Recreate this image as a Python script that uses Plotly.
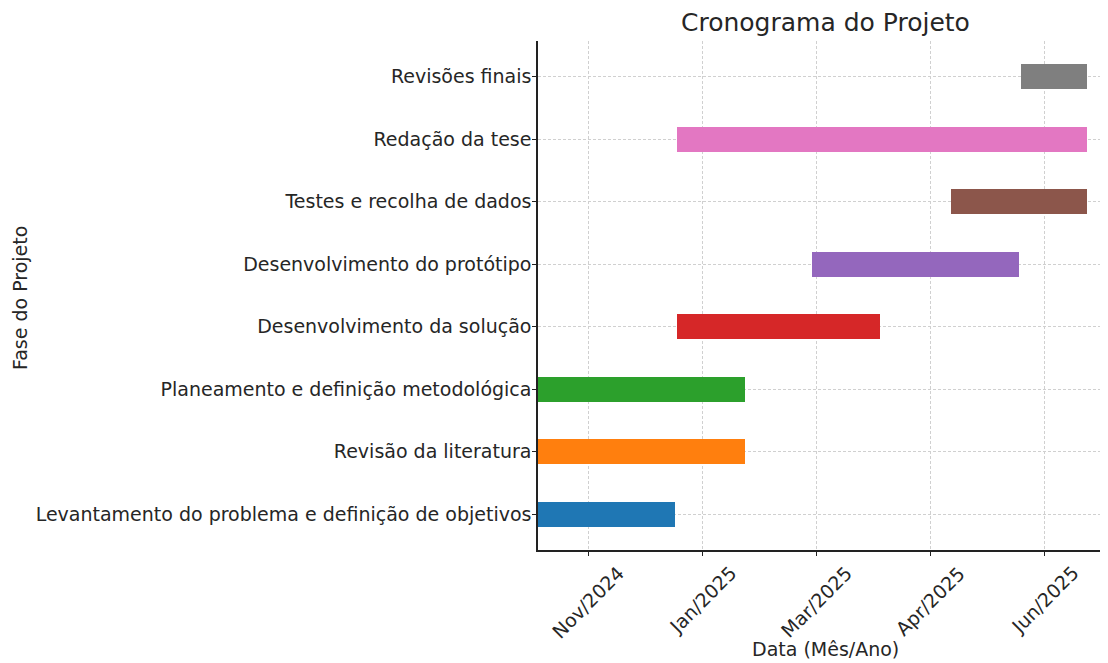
import plotly.graph_objects as go
import pandas as pd

# Data
phases = [
    "Levantamento do problema e definição de objetivos",
    "Revisão da literatura",
    "Planeamento e definição metodológica",
    "Desenvolvimento da solução",
    "Desenvolvimento do protótipo",
    "Testes e recolha de dados",
    "Redação da tese",
    "Revisões finais",
]
start_dates = [
    "2024-11-01", "2024-11-01", "2024-11-01", "2025-01-01",
    "2025-03-01", "2025-05-01", "2025-01-01", "2025-06-01",
]
end_dates = [
    "2024-12-31", "2025-01-31", "2025-01-31", "2025-03-31",
    "2025-05-31", "2025-06-30", "2025-06-30", "2025-06-30",
]
colors = ["#1f77b4", "#ff7f0e", "#2ca02c", "#d62728",
          "#9467bd", "#8c564b", "#e377c2", "#7f7f7f"]
tick_dates = ["2024-11-23", "2025-01-12", "2025-03-03", "2025-04-22", "2025-06-11"]

FONT = "DejaVu Sans"
TXT = "#262626"

fig = go.Figure()
for ph, s, e, c in zip(phases, start_dates, end_dates, colors):
    dur_ms = (pd.Timestamp(e) - pd.Timestamp(s)).total_seconds() * 1000
    fig.add_trace(go.Bar(
        y=[ph], x=[dur_ms], base=[s], orientation="h",
        marker=dict(color=c, line=dict(width=0)),
        width=0.4, showlegend=False,
    ))

annotations = []
for td in tick_dates:
    label = pd.Timestamp(td).strftime("%b/%Y")
    annotations.append(dict(
        x=td, y=0, xref="x", yref="paper", text=label, textangle=-45,
        showarrow=False, xanchor="center", yanchor="top", yshift=-9,
        font=dict(family=FONT, size=19, color=TXT),
    ))
annotations.append(dict(
    x=0.505, y=-0.1945, xref="paper", yref="paper", text="Data (Mês/Ano)",
    showarrow=False, xanchor="center", yanchor="middle",
    font=dict(family=FONT, size=19, color=TXT),
))
annotations.append(dict(
    x=-0.9088, y=0.495, xref="paper", yref="paper", text="Fase do Projeto",
    showarrow=False, xanchor="center", yanchor="middle", textangle=-90,
    font=dict(family=FONT, size=19, color=TXT),
))
annotations.append(dict(
    x=0.505, y=1.0, yshift=19, xref="paper", yref="paper", text="Cronograma do Projeto",
    showarrow=False, xanchor="center", yanchor="middle",
    font=dict(family=FONT, size=25, color=TXT),
))

fig.update_layout(
    width=1100, height=655,
    margin=dict(l=530, r=0, t=33, b=113),
    plot_bgcolor="white", paper_bgcolor="white",
    bargap=0,
    annotations=annotations,
    xaxis=dict(
        type="date",
        range=["2024-11-01", "2025-07-09"],
        tickvals=tick_dates,
        showticklabels=False,
        ticks="outside", ticklen=4, tickwidth=1.2, tickcolor="#222222",
        showgrid=True, gridcolor="#d0d0d0", griddash="3px,2px", gridwidth=1,
        showline=True, linecolor="#222222", linewidth=1.5,
        zeroline=False, layer="above traces",
    ),
    yaxis=dict(
        type="category",
        categoryorder="array", categoryarray=phases,
        range=[-0.57, 7.57],
        ticks="outside", ticklen=4, tickwidth=1.2, tickcolor="#222222",
        ticklabelstandoff=-3,
        tickfont=dict(family=FONT, size=19, color=TXT),
        showgrid=True, gridcolor="#d0d0d0", griddash="3px,2px", gridwidth=1,
        showline=True, linecolor="#222222", linewidth=1.5,
        zeroline=False, layer="above traces",
    ),
)

fig.write_html("out.html")
